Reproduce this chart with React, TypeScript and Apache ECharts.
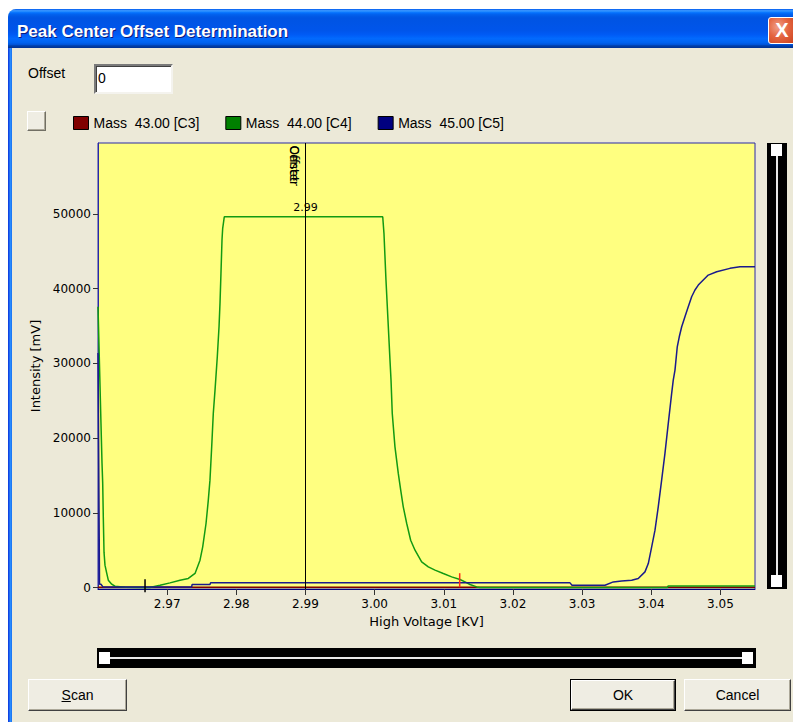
import React, { useEffect, useRef } from 'react';
import * as echarts from 'echarts';

// ---- data ----
const SERIES_NAMES = ['Mass  43.00 [C3]', 'Mass  44.00 [C4]', 'Mass  45.00 [C5]'];
const SWATCH_COLORS = ['#800000', '#008000', '#000080'];
const LINE_COLORS = ['#800000', '#129a12', '#1a1a8c'];

const X_MIN = 2.96;
const X_MAX = 3.055;
const Y_MIN = -200;
const Y_MAX = 59500;
const X_TICKS = [2.97, 2.98, 2.99, 3.0, 3.01, 3.02, 3.03, 3.04, 3.05];
const Y_TICKS = [0, 10000, 20000, 30000, 40000, 50000];

const massC3: [number, number][] = [
  [2.96, 30], [2.975, 30], [2.99, 40], [3.005, 30], [3.02, 30], [3.035, 40], [3.055, 30],
];

const massC4: [number, number][] = [
  [2.96, 37580], [2.96043, 22000], [2.96058, 16640], [2.96068, 13970], [2.96077, 9280],
  [2.96087, 4730], [2.96101, 2990], [2.96126, 1920], [2.96149, 980], [2.96198, 440],
  [2.96246, 170], [2.9639, 40], [2.96607, 0], [2.9675, 0], [2.96896, 310],
  [2.97041, 620], [2.97186, 980], [2.97306, 1210], [2.97403, 1880], [2.97475, 3660],
  [2.97514, 5440], [2.97562, 8570], [2.97595, 11690], [2.97619, 14370], [2.97644, 18830],
  [2.97667, 23300], [2.97692, 26420], [2.97725, 30880], [2.9775, 34900], [2.97764, 38030],
  [2.97778, 42050], [2.97793, 46510], [2.97803, 48080], [2.97826, 49620], [3.00117, 49620],
  [3.00135, 47410], [3.00164, 41150], [3.00193, 35800], [3.00222, 30440], [3.00237, 27760],
  [3.00255, 23300], [3.00294, 18830], [3.00342, 15270], [3.00377, 13030], [3.00414, 10800],
  [3.00464, 8570], [3.00521, 6330], [3.00584, 4990], [3.0068, 3430], [3.00776, 2760],
  [3.00873, 2320], [3.00993, 1870], [3.01114, 1420], [3.01234, 1070], [3.01307, 750],
  [3.01379, 400], [3.01476, 80], [3.01523, 0], [3.0423, 0], [3.04245, 200], [3.055, 200],
];

const massC5: [number, number][] = [
  [2.96, 31380], [2.96022, 440], [2.96043, 440], [2.96072, 80], [2.97355, 80],
  [2.9736, 400], [2.97619, 400], [2.97627, 620], [3.02825, 620], [3.02854, 310],
  [3.03331, 310], [3.03451, 750], [3.03572, 880], [3.03717, 980], [3.03812, 1210],
  [3.03909, 2090], [3.03957, 3210], [3.04006, 5440], [3.04054, 7670], [3.04101, 10790],
  [3.0415, 14370], [3.04198, 17950], [3.04246, 21960], [3.04295, 25980], [3.04318, 27760],
  [3.04343, 29100], [3.04376, 32220], [3.04405, 33560], [3.0444, 34900], [3.04487, 36240],
  [3.04535, 37580], [3.04584, 38920], [3.04632, 39820], [3.0468, 40480], [3.04752, 41150],
  [3.04824, 41820], [3.04946, 42270], [3.05138, 42720], [3.05283, 42940], [3.055, 42940],
];

const CURSOR_X = 2.99;
const CURSOR_TAGS = ['Offset', 'Center'];
const CURSOR_LABEL_Y = 50930;
const CURSOR_TAG_Y = 59150;

const MARKER_X = [2.9668, 3.0123];
const MARKER_LOW = [-630, 40];
const MARKER_HIGH = [1110, 1915];
const MARKER_COLORS = ['#000000', '#ff2a1a'];

// ---- UI helpers ----
const FACE = '#ECE9D8';
const uiFont = '"Liberation Sans", Arial, sans-serif';

function ClassicButton(props: { left: number; top: number; width: number; height: number; def?: boolean; children?: React.ReactNode }) {
  const { left, top, width, height, def, children } = props;
  return (
    <div
      style={{
        position: 'absolute', left, top, width, height, boxSizing: 'border-box',
        border: def ? '1px solid #000' : 'none',
      }}
    >
      <div
        style={{
          position: 'absolute', inset: 0, boxSizing: 'border-box',
          borderTop: '1px solid #ffffff', borderLeft: '1px solid #ffffff',
          borderRight: '1px solid #404040', borderBottom: '1px solid #404040',
          background: '#EFEDE3',
          boxShadow: 'inset -1px -1px 0 #ACA899',
          display: 'flex', alignItems: 'center', justifyContent: 'center',
          fontFamily: uiFont, fontSize: 14, color: '#000',
        }}
      >
        {children}
      </div>
    </div>
  );
}

export default function App() {
  const ref = useRef<HTMLDivElement>(null);

  useEffect(() => {
    if (!ref.current) return;
    const chart = echarts.init(ref.current, null, { renderer: 'svg' });
    const seriesData = [massC3, massC4, massC5];
    const option: any = {
      animation: false,
      textStyle: { fontFamily: 'DejaVu Sans' },
      legend: {
        left: 73,
        top: 116,
        padding: 0,
        itemWidth: 15,
        itemHeight: 13,
        itemGap: 26,
        icon: 'rect',
        selectedMode: false,
        textStyle: { fontFamily: 'Liberation Sans', fontSize: 14, color: '#000' },
        data: SERIES_NAMES.map((n, i) => ({
          name: n,
          itemStyle: { color: SWATCH_COLORS[i], borderColor: '#000', borderWidth: 1 },
        })),
      },
      grid: {
        left: 98, top: 143, width: 657, height: 446,
        show: true, backgroundColor: '#FFFF80', borderColor: '#2a2aa6', borderWidth: 1,
        containLabel: false, outerBoundsMode: 'none',
      },
      xAxis: {
        type: 'value', min: X_MIN, max: X_MAX,
        name: 'High Voltage [KV]', nameLocation: 'middle', nameGap: 26,
        nameTextStyle: { fontSize: 13, color: '#000', fontFamily: 'DejaVu Sans' },
        axisLine: { show: true, onZero: false, lineStyle: { color: '#000080', width: 1 } },
        axisTick: { show: true, length: 6, customValues: X_TICKS, lineStyle: { color: '#333' } },
        axisLabel: {
          customValues: X_TICKS, margin: 9, fontSize: 12, color: '#000',
          formatter: (v: number) => v.toFixed(2),
        },
        splitLine: { show: false },
      },
      yAxis: {
        type: 'value', min: Y_MIN, max: Y_MAX,
        name: 'Intensity [mV]', nameLocation: 'middle', nameGap: 50,
        nameTextStyle: { fontSize: 13, color: '#000', fontFamily: 'DejaVu Sans' },
        axisLine: { show: true, onZero: false, lineStyle: { color: '#2a2aa6', width: 1 } },
        axisTick: { show: true, length: 5, customValues: Y_TICKS, lineStyle: { color: '#333' } },
        axisLabel: {
          customValues: Y_TICKS, margin: 7, fontSize: 12, color: '#000',
          formatter: (v: number) => String(Math.round(v)),
        },
        splitLine: { show: false },
      },
      series: [
        ...SERIES_NAMES.map((n, i) => ({
          type: 'line',
          name: n,
          data: seriesData[i],
          symbol: 'none',
          lineStyle: { color: LINE_COLORS[i], width: 1.5 },
          itemStyle: { color: LINE_COLORS[i] },
          clip: true,
          z: 2 + i,
          markLine: i === 1 ? {
            symbol: ['none', 'none'],
            silent: true,
            label: { show: false },
            lineStyle: { color: '#000', width: 1, type: 'solid' },
            emphasis: { disabled: true },
            data: [{ xAxis: CURSOR_X }],
          } : undefined,
        })),
        {
          type: 'custom',
          name: 'markers',
          silent: true,
          clip: false,
          z: 10,
          data: MARKER_X.map((x, i) => [x, MARKER_LOW[i], MARKER_HIGH[i], i]),
          encode: { x: 0, y: [1, 2] },
          renderItem: (_p: any, api: any) => {
            const x = api.value(0);
            const a = api.coord([x, api.value(1)]);
            const b = api.coord([x, api.value(2)]);
            return {
              type: 'line',
              shape: { x1: a[0], y1: a[1], x2: b[0], y2: b[1] },
              style: { stroke: MARKER_COLORS[api.value(3)], lineWidth: 1.5 },
            };
          },
        },
      ],
    };
    chart.setOption(option);

    const pLabel = chart.convertToPixel({ gridIndex: 0 }, [CURSOR_X, CURSOR_LABEL_Y]) as number[];
    const pTag = chart.convertToPixel({ gridIndex: 0 }, [CURSOR_X, CURSOR_TAG_Y]) as number[];
    chart.setOption({
      graphic: [
        ...CURSOR_TAGS.map((t) => ({
          type: 'text',
          x: pTag[0] - 17,
          y: pTag[1],
          rotation: -Math.PI / 2,
          z: 20,
          silent: true,
          style: {
            text: t, fill: '#000', font: '12px "DejaVu Sans"',
            align: 'left', verticalAlign: 'bottom',
          },
        })),
        {
          type: 'text',
          x: pLabel[0],
          y: pLabel[1],
          z: 20,
          silent: true,
          style: {
            text: CURSOR_X.toFixed(2), fill: '#000', font: '11px "DejaVu Sans"',
            align: 'center', verticalAlign: 'middle',
          },
        },
      ],
    });

    return () => chart.dispose();
  }, []);

  return (
    <div
      style={{
        position: 'fixed', left: 0, top: 0, width: 793, height: 722,
        background: '#ffffff', overflow: 'hidden', fontFamily: uiFont,
      }}
    >
      {/* window */}
      <div
        style={{
          position: 'absolute', left: 8, top: 9, width: 820, height: 740,
          background: FACE, borderTopLeftRadius: 8, overflow: 'hidden',
        }}
      >
        <div
          style={{
            position: 'absolute', left: 0, top: 0, width: '100%', height: 39,
            background:
              'linear-gradient(to bottom, #0058EE 0%, #3593FF 4%, #288EFF 6%, #127DFF 8%, #036FFC 10%, #0262EE 14%, #0057E5 20%, #0054E3 24%, #0055EB 56%, #005BF5 66%, #026AFE 76%, #0062EF 86%, #0052D6 92%, #0040AB 94%, #003092 100%)',
          }}
        />
        <div
          style={{
            position: 'absolute', left: 9, top: 3, height: 39, lineHeight: '39px',
            color: '#fff', fontWeight: 'bold', fontSize: 17, fontFamily: uiFont,
            textShadow: '1px 1px 0 #0a1a80', whiteSpace: 'nowrap',
          }}
        >
          Peak Center Offset Determination
        </div>
        <div
          style={{
            position: 'absolute', left: 0, top: 39, width: 4, height: 700,
            background: 'linear-gradient(to right, #0831d9, #1b63f0, #2b90ff, #166aee)',
          }}
        />
        {/* close button */}
        <div
          style={{
            position: 'absolute', left: 760, top: 8, width: 28, height: 27, boxSizing: 'border-box',
            borderRadius: 3, border: '1px solid #ffffff',
            background: 'radial-gradient(circle at 35% 35%, #f0a08a 0%, #e4643f 45%, #c9401c 100%)',
            color: '#fff', fontWeight: 'bold', fontSize: 20, lineHeight: '24px',
            textAlign: 'center', fontFamily: uiFont,
          }}
        >
          X
        </div>
      </div>

      {/* Offset label and input */}
      <div style={{ position: 'absolute', left: 28, top: 65, fontSize: 14, lineHeight: '16px', color: '#000' }}>Offset</div>
      <div
        style={{
          position: 'absolute', left: 94, top: 64, width: 79, height: 30, boxSizing: 'border-box',
          background: '#fff',
          borderTop: '2px solid #7a7a7a', borderLeft: '2px solid #7a7a7a',
          borderRight: '2px solid #f4f3ee', borderBottom: '2px solid #f4f3ee',
          boxShadow: 'inset 1px 1px 0 #404040',
          fontSize: 14, lineHeight: '24px', paddingLeft: 2, color: '#000',
        }}
      >
        0
      </div>

      {/* small square button */}
      <div
        style={{
          position: 'absolute', left: 27, top: 111, width: 19, height: 20, boxSizing: 'border-box',
          background: '#EFEDE3',
          borderTop: '1px solid #fff', borderLeft: '1px solid #fff',
          borderRight: '1px solid #716F64', borderBottom: '1px solid #716F64',
          boxShadow: 'inset -1px -1px 0 #ACA899',
        }}
      />

      {/* vertical slider */}
      <div style={{ position: 'absolute', left: 767, top: 143, width: 20, height: 446, background: '#000' }}>
        <div style={{ position: 'absolute', left: 9, top: 6, width: 2, height: 432, background: '#e8e8e8' }} />
        <div style={{ position: 'absolute', left: 4, top: 1, width: 11, height: 12, background: '#fff' }} />
        <div style={{ position: 'absolute', left: 4, top: 432, width: 11, height: 12, background: '#fff' }} />
      </div>

      {/* horizontal slider */}
      <div style={{ position: 'absolute', left: 97, top: 648, width: 659, height: 20, background: '#000' }}>
        <div style={{ position: 'absolute', left: 6, top: 9, width: 646, height: 2, background: '#e8e8e8' }} />
        <div style={{ position: 'absolute', left: 2, top: 4, width: 11, height: 12, background: '#fff' }} />
        <div style={{ position: 'absolute', left: 645, top: 4, width: 11, height: 12, background: '#fff' }} />
      </div>

      {/* buttons */}
      <ClassicButton left={28} top={679} width={99} height={32}>
        <span><span style={{ textDecoration: 'underline' }}>S</span>can</span>
      </ClassicButton>
      <ClassicButton left={570} top={679} width={106} height={32} def>
        OK
      </ClassicButton>
      <ClassicButton left={684} top={679} width={107} height={32}>
        Cancel
      </ClassicButton>

      {/* chart */}
      <div ref={ref} style={{ position: 'absolute', left: 0, top: 0, width: 793, height: 722 }} />
    </div>
  );
}
